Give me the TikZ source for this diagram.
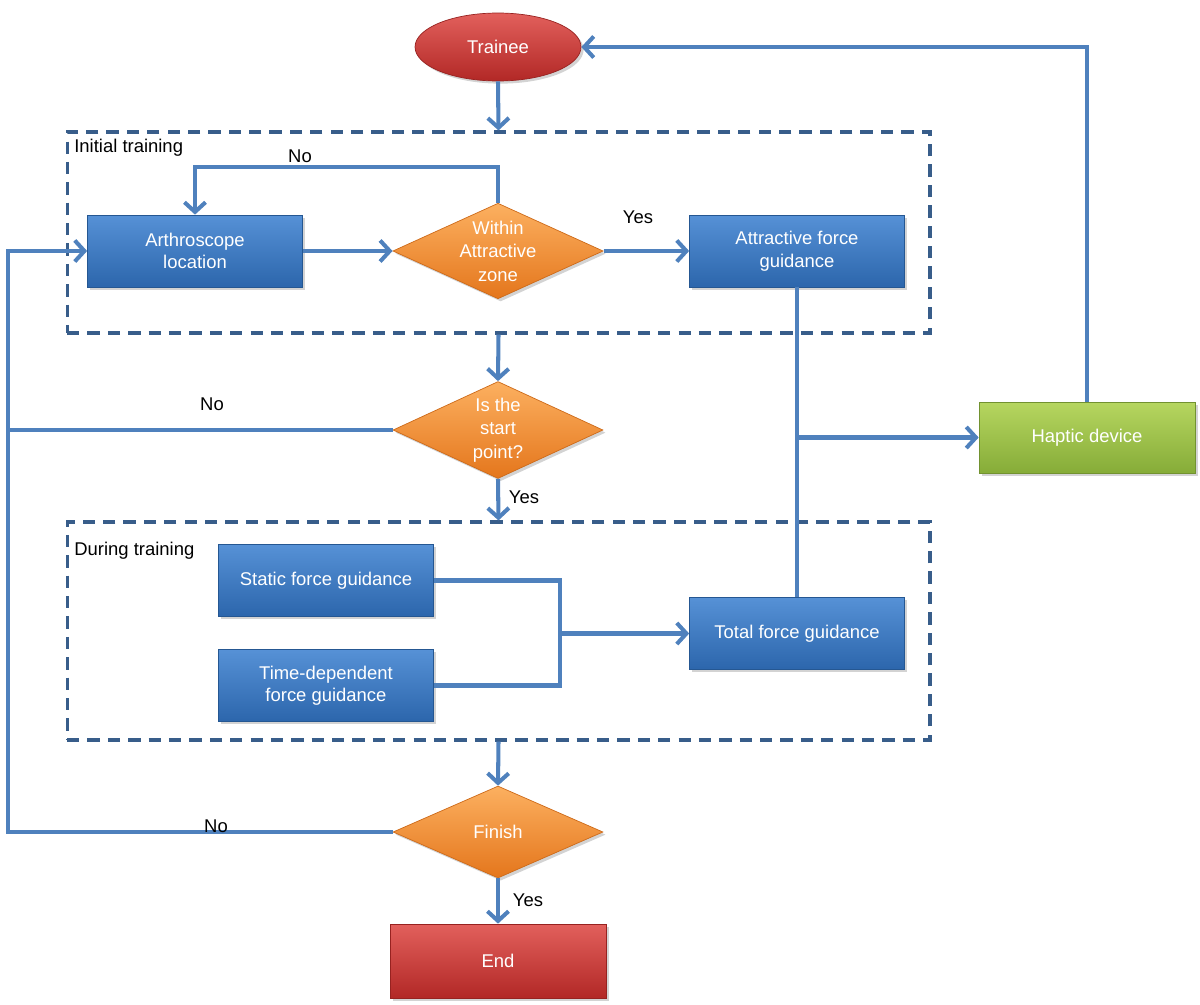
\documentclass[tikz,border=0pt]{standalone}
\usepackage{fontspec}
\setmainfont{Liberation Sans}
\usetikzlibrary{shapes.geometric,arrows.meta,shadows}
\definecolor{lineblue}{RGB}{79,129,189}
\definecolor{dashblue}{RGB}{56,93,138}
\definecolor{boxtop}{RGB}{86,145,214}
\definecolor{boxbot}{RGB}{44,102,172}
\definecolor{orgtop}{RGB}{252,176,96}
\definecolor{orgbot}{RGB}{228,118,28}
\definecolor{redtop}{RGB}{226,96,92}
\definecolor{redbot}{RGB}{178,40,38}
\definecolor{grntop}{RGB}{182,214,96}
\definecolor{grnbot}{RGB}{134,172,56}
\begin{document}
\begin{tikzpicture}[x=0.02cm, y=-0.02cm,
  txt/.style={font=\fontsize{10.5}{12.8}\selectfont},
  base/.style={txt, text=white, align=center, inner sep=0pt,
    drop shadow={opacity=0.35, shadow xshift=1.5pt, shadow yshift=-1.5pt}},
  bluebox/.style={base, rectangle, minimum width=4.3cm, minimum height=1.44cm,
    top color=boxtop, bottom color=boxbot, draw=boxbot!85!black, line width=0.4pt},
  greenbox/.style={base, rectangle, minimum width=4.32cm, minimum height=1.42cm,
    top color=grntop, bottom color=grnbot, draw=grnbot!85!black, line width=0.4pt},
  redbox/.style={base, rectangle, minimum width=4.32cm, minimum height=1.48cm,
    top color=redtop, bottom color=redbot, draw=redbot!85!black, line width=0.4pt},
  decision/.style={base, diamond, minimum width=4.2cm, minimum height=1.88cm, aspect=2.2,
    font=\fontsize{10.5}{13.4}\selectfont,
    top color=orgtop, bottom color=orgbot, draw=orgbot!90!black, line width=0.4pt},
  startnode/.style={base, ellipse, minimum width=3.32cm, minimum height=1.36cm,
    top color=redtop, bottom color=redbot, draw=redbot!85!black, line width=0.4pt},
  group/.style={draw=dashblue, line width=1.8pt, dash pattern=on 7pt off 4.6pt, inner sep=0pt},
  conn/.style={draw=lineblue, line width=2.3pt},
  arr/.style={conn, -{Straight Barb[length=5.5pt,width=12pt]}},
  lbl/.style={txt, text=black, inner sep=0pt}
]
\useasboundingbox (0,0) rectangle (1200,1004);

% groups
\node[group, minimum width=17.26cm, minimum height=4.02cm] (g1) at (498.5,232.5) {};
\node[group, minimum width=17.26cm, minimum height=4.36cm] (g2) at (498.5,631) {};
\node[lbl, anchor=base west] (g1lbl) at (74,152) {Initial training};
\node[lbl, anchor=base west] (g2lbl) at (74,555) {During training};

% nodes
\node[startnode] (trainee) at (498,47) {Trainee};
\node[bluebox] (arth) at (195,251) {Arthroscope\\location};
\node[decision] (within) at (498,251) {Within\\Attractive\\zone};
\node[bluebox] (attr) at (797,251) {Attractive force\\guidance};
\node[decision, minimum height=1.94cm] (isstart) at (498,430) {Is the\\start\\point?};
\node[greenbox] (haptic) at (1087,437.5) {Haptic device};
\node[bluebox] (static) at (326,580.5) {Static force guidance};
\node[bluebox] (timed) at (326,685.5) {Time-dependent\\force guidance};
\node[bluebox] (total) at (797,633.5) {Total force guidance};
\node[decision, minimum height=1.84cm] (finish) at (498,832) {Finish};
\node[redbox] (endn) at (498,961) {End};

% helper coordinates
\coordinate (noloop) at (498,167);
\coordinate (leftA) at (8,430);
\coordinate (jx) at (560,633.5);

% connectors
\draw[arr] (trainee.south) -- (g1.north);
\draw[arr] (arth.east) -- (within.west);
\draw[arr] (within.north) -- (noloop) -| (arth.north);
\draw[arr] (within.east) -- (attr.west);
\draw[arr] (g1.south) -- (isstart.north);
\draw[arr] (isstart.west) -- (leftA) |- (arth.west);
\draw[arr] (isstart.south) -- (g2.north);
\draw[conn] (static.east) -| (jx);
\draw[conn] (timed.east) -| (jx);
\draw[arr] (jx) -- (total.west);
\draw[conn] (attr.south) -- (total.north);
\draw[arr] (attr.south |- haptic.west) -- (haptic.west);
\draw[arr] (haptic.north) |- (trainee.east);
\draw[arr] (g2.south) -- (finish.north);
\draw[conn] (finish.west) -| (leftA);
\draw[arr] (finish.south) -- (endn.north);

% labels
\node[lbl] (l1) at (300,156) {No};
\node[lbl] (l2) at (638,217) {Yes};
\node[lbl] (l3) at (212,404) {No};
\node[lbl] (l4) at (524,497) {Yes};
\node[lbl] (l5) at (216,826) {No};
\node[lbl] (l6) at (528,900) {Yes};
\end{tikzpicture}
\end{document}
